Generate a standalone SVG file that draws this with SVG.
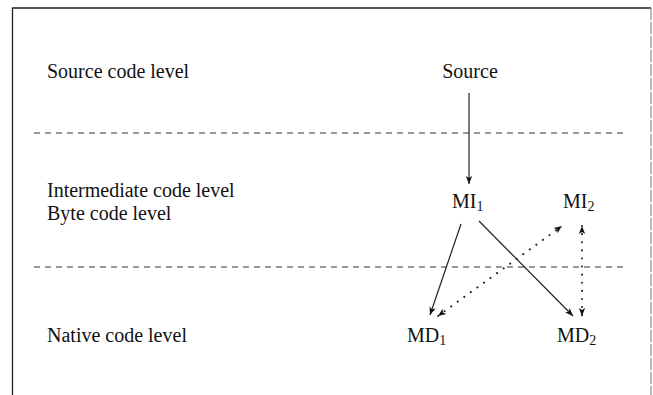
<svg xmlns="http://www.w3.org/2000/svg" width="653" height="395" viewBox="0 0 653 395">
<defs>
<style>
.t{font-family:"Liberation Serif","Times New Roman",serif;font-size:20px;fill:#111}
.sub{font-size:14px}
.frame{stroke:#222;stroke-width:1.3;fill:none}
.dash{stroke:#333;stroke-width:1.1;stroke-dasharray:6 5;fill:none}
.solid{stroke:#222;stroke-width:1.2;fill:none}
.dot{stroke:#222;stroke-width:2;stroke-dasharray:0.1 8;stroke-linecap:round;fill:none}
</style>
<marker id="ah" viewBox="0 0 10 10" refX="10" refY="5" markerWidth="8" markerHeight="8" markerUnits="userSpaceOnUse" orient="auto-start-reverse">
<path d="M0,1 L10,5 L0,9 L2.5,5 z" fill="#111"/>
</marker>
</defs>
<rect width="653" height="395" fill="#fff"/>
<g id="frame">
<path class="frame" d="M12.5,395 L12.5,8 L651,8"/>
<path d="M651,8 L651,395" stroke="#777" stroke-width="1" stroke-dasharray="12 2" fill="none"/>
</g>
<g id="levels">
<line class="dash" x1="34" y1="133" x2="628" y2="133"/>
<line class="dash" x1="34" y1="267" x2="628" y2="267"/>
<text class="t" x="47" y="78">Source code level</text>
<text class="t" x="47" y="197">Intermediate code level</text>
<text class="t" x="47" y="220">Byte code level</text>
<text class="t" x="47" y="342">Native code level</text>
</g>
<g id="source"><text class="t" x="470" y="78" text-anchor="middle">Source</text></g>
<g id="mi1"><text class="t" x="452" y="208">MI<tspan class="sub" dy="3">1</tspan></text></g>
<g id="mi2"><text class="t" x="563" y="208">MI<tspan class="sub" dy="3">2</tspan></text></g>
<g id="md1"><text class="t" x="407" y="342">MD<tspan class="sub" dy="3">1</tspan></text></g>
<g id="md2"><text class="t" x="557" y="342">MD<tspan class="sub" dy="3">2</tspan></text></g>
<g id="connectors">
<line class="solid" x1="469" y1="93" x2="469" y2="184" marker-end="url(#ah)"/>
<line class="solid" x1="461" y1="224" x2="430" y2="315" marker-end="url(#ah)"/>
<line class="solid" x1="479" y1="221" x2="573" y2="316" marker-end="url(#ah)"/>
<line class="dot" x1="438" y1="316" x2="562" y2="226"/>
<line x1="438" y1="316" x2="562" y2="226" stroke="none" marker-start="url(#ah)" marker-end="url(#ah)"/>
<line class="dot" x1="582" y1="226" x2="582" y2="316"/>
<line x1="582" y1="226" x2="582" y2="316" stroke="none" marker-start="url(#ah)" marker-end="url(#ah)"/>
</g>
</svg>
